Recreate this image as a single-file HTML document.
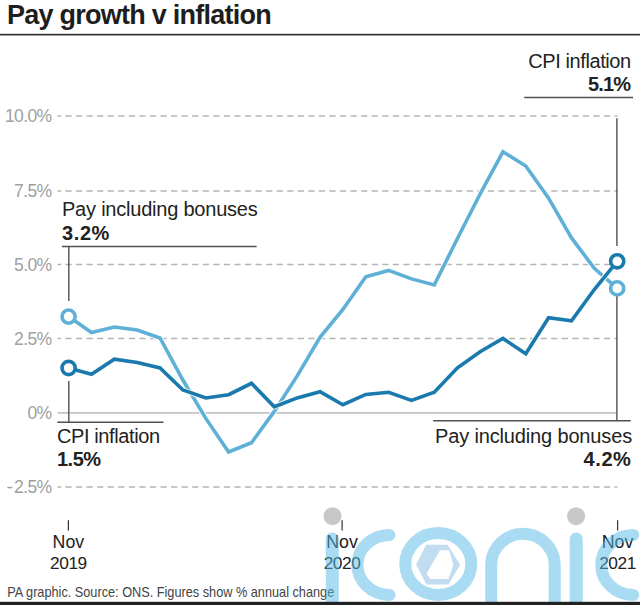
<!DOCTYPE html>
<html><head><meta charset="utf-8">
<style>
html,body{margin:0;padding:0;background:#fff;}
body{width:640px;height:605px;overflow:hidden;position:relative;}
svg{position:absolute;left:0;top:0;}
text{font-family:"Liberation Sans",sans-serif;}
</style></head><body>
<svg width="640" height="605" viewBox="0 0 640 605">
<rect width="640" height="605" fill="#fff"/>
<text x="7" y="24" font-size="27" font-weight="bold" fill="#1e1e1e" letter-spacing="-0.75">Pay growth v inflation</text>
<rect x="0" y="33.8" width="640" height="1.7" fill="#333"/>
<line x1="57.5" y1="116" x2="617.5" y2="116" stroke="#b5b5b5" stroke-width="1.5" stroke-dasharray="6.2 4.36" stroke-dashoffset="2.6"/>
<text x="51.5" y="122.3" font-size="17.5" fill="#a0a0a0" text-anchor="end" letter-spacing="-0.6">10.0%</text>
<line x1="57.5" y1="190.9" x2="617.5" y2="190.9" stroke="#b5b5b5" stroke-width="1.5" stroke-dasharray="6.2 4.36" stroke-dashoffset="2.6"/>
<text x="51.5" y="197.2" font-size="17.5" fill="#a0a0a0" text-anchor="end" letter-spacing="-0.6">7.5%</text>
<line x1="57.5" y1="264.6" x2="617.5" y2="264.6" stroke="#b5b5b5" stroke-width="1.5" stroke-dasharray="6.2 4.36" stroke-dashoffset="2.6"/>
<text x="51.5" y="270.9" font-size="17.5" fill="#a0a0a0" text-anchor="end" letter-spacing="-0.6">5.0%</text>
<line x1="57.5" y1="338.4" x2="617.5" y2="338.4" stroke="#b5b5b5" stroke-width="1.5" stroke-dasharray="6.2 4.36" stroke-dashoffset="2.6"/>
<text x="51.5" y="344.7" font-size="17.5" fill="#a0a0a0" text-anchor="end" letter-spacing="-0.6">2.5%</text>
<line x1="57.5" y1="486.9" x2="617.5" y2="486.9" stroke="#b5b5b5" stroke-width="1.5" stroke-dasharray="6.2 4.36" stroke-dashoffset="2.6"/>
<text x="51.5" y="493.2" font-size="17.5" fill="#a0a0a0" text-anchor="end" letter-spacing="-0.6"><tspan font-size="19" letter-spacing="1.2">-</tspan>2.5%</text>
<line x1="57.5" y1="412.9" x2="617" y2="412.9" stroke="#c4c4c4" stroke-width="1.7"/>
<text x="51.5" y="419.4" font-size="17.5" fill="#a0a0a0" text-anchor="end" letter-spacing="-0.6">0%</text>
<line x1="68.8" y1="247" x2="68.8" y2="301" stroke="#505050" stroke-width="1.4"/>
<line x1="61.9" y1="246.5" x2="256.6" y2="246.5" stroke="#505050" stroke-width="1.5"/>
<line x1="68.8" y1="381" x2="68.8" y2="422" stroke="#505050" stroke-width="1.4"/>
<line x1="57.3" y1="422.2" x2="163.5" y2="422.2" stroke="#505050" stroke-width="1.5"/>
<line x1="616.9" y1="118.3" x2="616.9" y2="246" stroke="#505050" stroke-width="1.4"/>
<line x1="524.2" y1="97.4" x2="633" y2="97.4" stroke="#505050" stroke-width="1.5"/>
<line x1="616.9" y1="296" x2="616.9" y2="421" stroke="#505050" stroke-width="1.4"/>
<line x1="433.2" y1="420.8" x2="630.7" y2="420.8" stroke="#505050" stroke-width="1.5"/>
<text x="62" y="216.4" font-size="20" fill="#222" letter-spacing="-0.22">Pay including bonuses</text>
<text x="62" y="239.6" font-size="20" font-weight="bold" fill="#222" letter-spacing="0.6">3.2%</text>
<text x="57" y="443" font-size="20" fill="#222" letter-spacing="-0.4">CPI inflation</text>
<text x="57" y="465.9" font-size="20" font-weight="bold" fill="#222" letter-spacing="-0.5">1.5%</text>
<text x="630.8" y="67.6" font-size="20" fill="#222" text-anchor="end" letter-spacing="-0.4">CPI inflation</text>
<text x="630.3" y="90.5" font-size="20" font-weight="bold" fill="#222" text-anchor="end" letter-spacing="-0.8">5.1%</text>
<text x="632" y="442.8" font-size="20" fill="#222" text-anchor="end" letter-spacing="-0.15">Pay including bonuses</text>
<text x="631.5" y="465.5" font-size="20" font-weight="bold" fill="#222" text-anchor="end" letter-spacing="0.6">4.2%</text>
<polyline points="68.6,316.6 91.5,332.5 114.3,327.0 137.2,330.0 160.0,338.0 182.9,380.0 205.8,418.4 228.6,452.0 251.5,442.7 274.3,411.4 297.2,375.9 320.0,337.3 342.9,309.5 365.8,276.8 388.6,270.4 411.5,278.9 434.3,284.9 457.2,239.0 480.1,194.0 502.9,151.8 525.8,166.0 548.6,198.2 571.5,237.9 594.3,268.3 617.2,288.4" fill="none" stroke="#fff" stroke-width="5.5" stroke-linejoin="round"/>
<polyline points="68.6,316.6 91.5,332.5 114.3,327.0 137.2,330.0 160.0,338.0 182.9,380.0 205.8,418.4 228.6,452.0 251.5,442.7 274.3,411.4 297.2,375.9 320.0,337.3 342.9,309.5 365.8,276.8 388.6,270.4 411.5,278.9 434.3,284.9 457.2,239.0 480.1,194.0 502.9,151.8 525.8,166.0 548.6,198.2 571.5,237.9 594.3,268.3 617.2,288.4" fill="none" stroke="#5eb0d6" stroke-width="3.6" stroke-linejoin="miter"/>
<polyline points="68.6,368.0 91.5,374.2 114.3,359.2 137.2,362.5 160.0,368.0 182.9,390.0 205.8,398.0 228.6,394.7 251.5,383.3 274.3,406.8 297.2,397.9 320.0,391.8 342.9,404.7 365.8,394.4 388.6,392.3 411.5,400.4 434.3,392.3 457.2,368.0 480.1,351.8 502.9,338.4 525.8,353.7 548.6,317.8 571.5,320.9 594.3,289.5 617.2,261.3" fill="none" stroke="#fff" stroke-width="5.5" stroke-linejoin="round"/>
<polyline points="68.6,368.0 91.5,374.2 114.3,359.2 137.2,362.5 160.0,368.0 182.9,390.0 205.8,398.0 228.6,394.7 251.5,383.3 274.3,406.8 297.2,397.9 320.0,391.8 342.9,404.7 365.8,394.4 388.6,392.3 411.5,400.4 434.3,392.3 457.2,368.0 480.1,351.8 502.9,338.4 525.8,353.7 548.6,317.8 571.5,320.9 594.3,289.5 617.2,261.3" fill="none" stroke="#1a7aad" stroke-width="3.6" stroke-linejoin="miter"/>
<circle cx="68.6" cy="316.6" r="6.6" fill="#fff" stroke="#5eb0d6" stroke-width="3.6"/>
<circle cx="617.2" cy="288.4" r="6.6" fill="#fff" stroke="#5eb0d6" stroke-width="3.6"/>
<circle cx="68.6" cy="368.0" r="6.6" fill="#fff" stroke="#1a7aad" stroke-width="3.6"/>
<circle cx="617.2" cy="261.3" r="6.6" fill="#fff" stroke="#1a7aad" stroke-width="3.6"/>
<line x1="68.4" y1="520.3" x2="68.4" y2="530.5" stroke="#333" stroke-width="1.2"/>
<text x="68.4" y="548" font-size="17.8" fill="#222" text-anchor="middle">Nov</text>
<text x="68.4" y="568.6" font-size="17.3" fill="#222" text-anchor="middle" letter-spacing="-0.4">2019</text>
<line x1="342.1" y1="520.3" x2="342.1" y2="530.5" stroke="#333" stroke-width="1.2"/>
<text x="342.1" y="548" font-size="17.8" fill="#222" text-anchor="middle">Nov</text>
<text x="342.1" y="568.6" font-size="17.3" fill="#222" text-anchor="middle" letter-spacing="-0.4">2020</text>
<line x1="617.6" y1="520.3" x2="617.6" y2="530.5" stroke="#333" stroke-width="1.2"/>
<text x="617.6" y="548" font-size="17.8" fill="#222" text-anchor="middle">Nov</text>
<text x="617.6" y="568.6" font-size="17.3" fill="#222" text-anchor="middle" letter-spacing="-0.4">2021</text>
<text transform="translate(7.2,596.6) scale(0.925,1)" x="0" y="0" font-size="13.8" fill="#444" letter-spacing="-0.02">PA graphic. Source: ONS. Figures show % annual change</text>
<g opacity="0.5" fill="none" stroke="rgb(85,187,232)" stroke-width="12" stroke-linecap="round">
<line x1="332.3" y1="539" x2="332.3" y2="640" stroke-width="13"/>
<path d="M389.5,534.9 A32,30 0 0 0 389.5,594.9"/>
<ellipse cx="438.3" cy="564" rx="33" ry="31"/>
<path d="M491.2,640 L491.2,563.5 A31.8,31.5 0 0 1 554.7,563.5 L554.7,640"/>
<line x1="576.2" y1="539" x2="576.2" y2="640" stroke-width="13"/>
<path d="M633.3,534.9 A32,30 0 0 0 633.3,594.9"/>
</g>
<path d="M416.1,564.8 L426.1,544.8 L447.5,544.8 L460.2,564.8 L448.4,584.5 L426.5,584.5 Z M440,550.2 L449.1,550.2 L453.4,565 L448.4,579 L430.2,579 L426.6,573.4 Z" fill="#c3ddf0" fill-rule="evenodd"/>
<circle cx="332.5" cy="516.2" r="9" fill="#c8c8c8"/>
<circle cx="576.1" cy="516.2" r="9" fill="#c8c8c8"/>
<rect x="0" y="601.8" width="640" height="3.2" fill="#222"/>
</svg></body></html>
